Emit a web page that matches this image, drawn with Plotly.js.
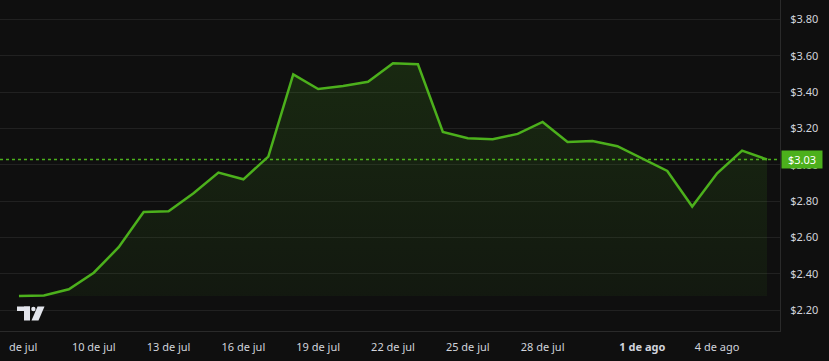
<!DOCTYPE html>
<html>
<head>
<meta charset="utf-8">
<script src="https://cdn.plot.ly/plotly-3.0.1.min.js"></script>
<style>
html,body{margin:0;padding:0;background:#0f0f0f;}
#chart{width:829px;height:361px;}
</style>
</head>
<body>
<div id="chart"></div>
<script>
const dates = ['2024-07-07','2024-07-08','2024-07-09','2024-07-10','2024-07-11','2024-07-12','2024-07-13','2024-07-14','2024-07-15','2024-07-16','2024-07-17','2024-07-18','2024-07-19','2024-07-20','2024-07-21','2024-07-22','2024-07-23','2024-07-24','2024-07-25','2024-07-26','2024-07-27','2024-07-28','2024-07-29','2024-07-30','2024-07-31','2024-08-01','2024-08-02','2024-08-03','2024-08-04','2024-08-05','2024-08-06'];
const prices = [2.279,2.281,2.316,2.407,2.547,2.741,2.745,2.844,2.958,2.921,3.046,3.499,3.418,3.435,3.458,3.560,3.554,3.182,3.147,3.141,3.171,3.237,3.127,3.132,3.103,3.035,2.967,2.771,2.954,3.079,3.030];
const lastPrice = 3.03;
const lastPriceLabel = '$3.03';
const xTickVals = ['2024-07-07 04:00','2024-07-10','2024-07-13','2024-07-16','2024-07-19','2024-07-22','2024-07-25','2024-07-28','2024-08-01','2024-08-04'];
const xTickText = ['de jul','10 de jul','13 de jul','16 de jul','19 de jul','22 de jul','25 de jul','28 de jul','<b>1 de ago</b>','4 de ago'];
const yTickVals = [2.2,2.4,2.6,2.8,3.0,3.2,3.4,3.6,3.8];
const yTickText = ['$2.20','$2.40','$2.60','$2.80','$3.00','$3.20','$3.40','$3.60','$3.80'];

const base = Math.min(...prices);
const green = '#4cb01c';

const traces = [
  {x: dates, y: prices.map(() => base), type:'scatter', mode:'lines',
   line:{width:0, color:'rgba(0,0,0,0)'}, hoverinfo:'skip', showlegend:false},
  {x: dates, y: prices, type:'scatter', mode:'lines', fill:'tonexty',
   fillgradient:{type:'vertical', colorscale:[[0,'rgba(76,176,28,0.06)'],[1,'rgba(76,176,28,0.16)']]},
   line:{color:green, width:2.5}, showlegend:false}
];

const W = 780, H = 331;
function px(x){return x / W;}
function py(y){return (H - y) / H;}
const logoColor = '#e3e5ec';

const layout = {
  width:829, height:361,
  paper_bgcolor:'#0f0f0f', plot_bgcolor:'#0f0f0f',
  margin:{l:0, r:49, t:0, b:30},
  font:{family:'Noto Sans, DejaVu Sans, sans-serif', size:11, color:'#d1d4dc'},
  showlegend:false,
  xaxis:{
    type:'date', range:['2024-07-06 05:45','2024-08-06 12:30'],
    tickvals:xTickVals, ticktext:xTickText,
    showgrid:false, zeroline:false,
    showline:true, linecolor:'#2a2a2a', linewidth:1,
    ticks:'outside', ticklen:6, tickcolor:'rgba(0,0,0,0)',
    tickfont:{size:11, color:'#d1d4dc'}, fixedrange:true
  },
  yaxis:{
    side:'right', range:[2.086,3.908],
    tickvals:yTickVals, ticktext:yTickText,
    showgrid:true, gridcolor:'#212121', gridwidth:1, zeroline:false,
    showline:true, linecolor:'#2a2a2a', linewidth:1,
    ticks:'outside', ticklen:7, tickcolor:'rgba(0,0,0,0)',
    tickfont:{size:11, color:'#d1d4dc'}, fixedrange:true
  },
  shapes:[
    {type:'line', xref:'paper', x0:0, x1:1, yref:'y', y0:lastPrice, y1:lastPrice,
     line:{color:green, width:1.5, dash:'dot'}},
    {type:'rect', xref:'paper', yref:'paper', x0:px(17), x1:px(30), y0:py(311), y1:py(306.5),
     fillcolor:logoColor, line:{width:0}},
    {type:'rect', xref:'paper', yref:'paper', x0:px(24), x1:px(30), y0:py(320.5), y1:py(306.5),
     fillcolor:logoColor, line:{width:0}},
    {type:'circle', xref:'paper', yref:'paper', x0:px(31.2), x1:px(35.6), y0:py(311.2), y1:py(306.8),
     fillcolor:logoColor, line:{width:0}},
    {type:'path', xref:'paper', yref:'paper',
     path:'M '+px(37.5)+' '+py(306.5)+' L '+px(44.5)+' '+py(306.5)+' L '+px(38.5)+' '+py(320.5)+' L '+px(31.5)+' '+py(320.5)+' Z',
     fillcolor:logoColor, line:{width:0}}
  ],
  annotations:[
    {xref:'paper', x:1, xanchor:'left', xshift:1, yref:'y', y:lastPrice, yanchor:'middle',
     text:lastPriceLabel, showarrow:false, bgcolor:green, borderpad:3,
     width:34, height:11, align:'center',
     font:{size:11, color:'#ffffff'}}
  ]
};

Plotly.newPlot('chart', traces, layout, {displayModeBar:false, staticPlot:true});
</script>
</body>
</html>
